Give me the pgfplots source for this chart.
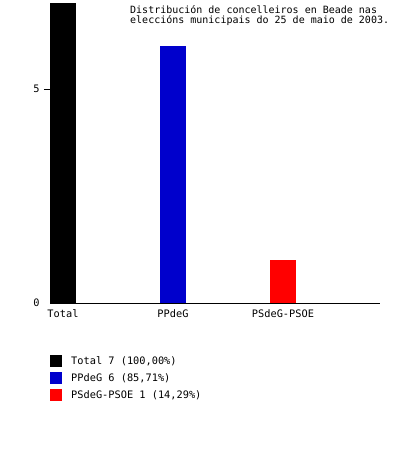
\documentclass[border=0pt]{standalone}
\usepackage{fontspec}
\setmainfont{DejaVu Sans Mono}
\usepackage{pgfplots}
\pgfplotsset{compat=1.18}
\definecolor{BarBlue}{HTML}{0000CC}
\definecolor{BarRed}{HTML}{FF0000}

\begin{document}
\fontsize{10bp}{11bp}\selectfont
\begin{tikzpicture}
\path[use as bounding box] (0,0) rectangle (420bp,453bp);
\begin{axis}[
  at={(50bp,150bp)}, anchor=south west,
  scale only axis, width=330bp, height=303bp,
  xmin=0, xmax=3, ymin=0, ymax=7.08,
  ybar, bar width=26bp, bar shift=0pt,
  axis x line*=bottom, axis y line*=left,
  y axis line style={draw=none},
  x axis line style={black, line width=1bp, -},
  xtick={0.11818,1.11818,2.11818},
  xticklabels={Total,PPdeG,PSdeG-PSOE},
  x tick label style={font=\fontsize{10.3bp}{11bp}\selectfont, anchor=north, yshift=3bp},
  xtick style={draw=none},
  ytick={5}, extra y ticks={0},
  extra y tick style={ytick style={draw=none}},
  ytick style={black, line width=1bp},
  tick align=outside, major tick length=6bp,
  y tick label style={font=\fontsize{10.3bp}{11bp}\selectfont, xshift=-1bp},
  /pgf/number format/assume math mode=true,
  legend style={at={(axis description cs:0,0)}, anchor=north west, yshift=-52bp,
    draw=none, fill=none, inner sep=0pt, row sep=5bp, cells={anchor=west},
    font=\fontsize{10.3bp}{11bp}\selectfont,
    nodes={inner sep=0pt},
    /tikz/every odd column/.style={column sep=9bp}},
  legend image code/.code={\fill[#1] (0bp,-6bp) rectangle (12bp,6bp);},
]
\addplot[fill=black, draw=none] coordinates {(0.11818,7)};
\addplot[fill=BarBlue, draw=none] coordinates {(1.11818,6)};
\addplot[fill=BarRed, draw=none] coordinates {(2.11818,1)};
\legend{Total 7 (100{,}00\%), PPdeG 6 (85{,}71\%), PSdeG-PSOE 1 (14{,}29\%)}
\end{axis}
\node[anchor=north west, align=left, inner sep=0pt, font=\fontsize{10bp}{10.5bp}\selectfont]
  at (130bp,448bp) {Distribución de concelleiros en Beade nas\\eleccións municipais do 25 de maio de 2003.};
\end{tikzpicture}
\end{document}
